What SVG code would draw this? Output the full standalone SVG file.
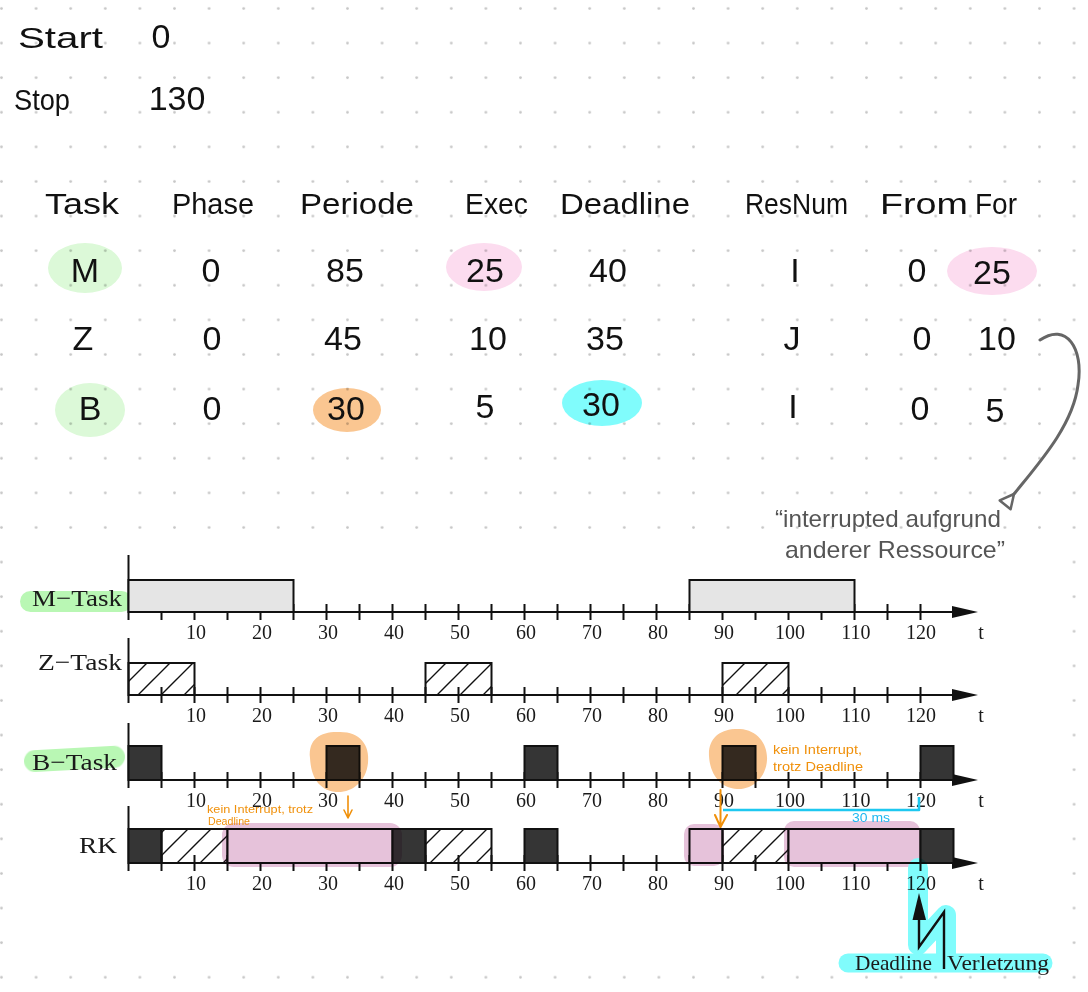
<svg xmlns="http://www.w3.org/2000/svg" xmlns:xlink="http://www.w3.org/1999/xlink" width="1088" height="992" viewBox="0 0 1088 992">
<style>
.hw{font-family:"Liberation Sans","DejaVu Sans",sans-serif;fill:#111;}
.hd{font-size:30px;}
.val{font-size:34px;text-anchor:middle;}
.gray{fill:#555;font-size:24px;}
.tm{font-family:"Liberation Serif","DejaVu Serif",serif;fill:#1a1a1a;}
.tick{font-size:20px;text-anchor:middle;}
.lab{font-size:24px;text-anchor:end;}
.ax{stroke:#111;stroke-width:2;fill:none;}
.box{stroke:#111;stroke-width:2;}
.gbox{fill:#e5e5e5;}
.dbox{fill:#353535;}
.wbox{fill:#fff;}
.hbox{fill:url(#hatch);}
.hl{mix-blend-mode:multiply;}
.or{fill:#f0900a;font-family:"Liberation Sans","DejaVu Sans",sans-serif;}
</style>
<defs>
<pattern id="dots" patternUnits="userSpaceOnUse" width="34.6" height="34.6">
<circle cx="1.5" cy="8.5" r="1.4" fill="#c6c6c6"/>
</pattern>
<pattern id="hatch" patternUnits="userSpaceOnUse" x="5" y="0" width="23" height="23">
<path d="M-2,2 L2,-2 M0,23 L23,0 M21,25 L25,21" stroke="#111" stroke-width="1.4" fill="none"/>
</pattern>
<g id="axis">
<line class="ax" x1="128.5" y1="-57" x2="128.5" y2="8"/>
<line class="ax" x1="128.5" y1="0" x2="956" y2="0"/>
<polygon points="952,-6 978,0 952,6" fill="#111"/>
<path class="ax" d="M161.5,-8v16m33,-16v16m33,-16v16m33,-16v16m33,-16v16m33,-16v16m33,-16v16m33,-16v16m33,-16v16m33,-16v16m33,-16v16m33,-16v16m33,-16v16m33,-16v16m33,-16v16m33,-16v16m33,-16v16m33,-16v16m33,-16v16m33,-16v16m33,-16v16m33,-16v16m33,-16v16m33,-16v16"/>
<g class="tm tick">
<text x="196" y="27">10</text><text x="262" y="27">20</text><text x="328" y="27">30</text><text x="394" y="27">40</text><text x="460" y="27">50</text><text x="526" y="27">60</text><text x="592" y="27">70</text><text x="658" y="27">80</text><text x="724" y="27">90</text><text x="790" y="27">100</text><text x="856" y="27">110</text><text x="921" y="27">120</text><text x="981" y="27">t</text>
</g>
</g>
<marker id="grayhead" markerWidth="22" markerHeight="22" refX="3" refY="11" orient="auto" markerUnits="userSpaceOnUse">
<path d="M17,4 L3,11 L17,18 Z" fill="#fff" stroke="#666" stroke-width="2.5" stroke-linejoin="round"/>
</marker>
</defs>

<rect width="1088" height="992" fill="#fff"/>
<rect width="1088" height="992" fill="url(#dots)"/>

<g id="header">
<text class="hw hd" x="18" y="48" textLength="85" lengthAdjust="spacingAndGlyphs">Start</text>
<text class="hw val" x="161" y="48">0</text>
<text class="hw hd" x="14" y="110" textLength="56" lengthAdjust="spacingAndGlyphs">Stop</text>
<text class="hw val" x="177" y="110">130</text>
</g>

<g id="table-highlights" class="hl">
<ellipse cx="85" cy="268" rx="37" ry="25" fill="#dcf9d8"/>
<ellipse cx="90" cy="410" rx="35" ry="27" fill="#dcf9d8"/>
<ellipse cx="484" cy="267" rx="38" ry="24" fill="#fcdcef"/>
<ellipse cx="992" cy="271" rx="45" ry="24" fill="#fcdcef"/>
<ellipse cx="347" cy="410" rx="34" ry="22" fill="#fac691"/>
<ellipse cx="602" cy="403" rx="40" ry="23" fill="#80fcfc"/>
</g>

<g id="table">
<text class="hw hd" x="45" y="214" textLength="74" lengthAdjust="spacingAndGlyphs">Task</text>
<text class="hw hd" x="172" y="214" textLength="82" lengthAdjust="spacingAndGlyphs">Phase</text>
<text class="hw hd" x="300" y="214" textLength="114" lengthAdjust="spacingAndGlyphs">Periode</text>
<text class="hw hd" x="465" y="214" textLength="63" lengthAdjust="spacingAndGlyphs">Exec</text>
<text class="hw hd" x="560" y="214" textLength="130" lengthAdjust="spacingAndGlyphs">Deadline</text>
<text class="hw hd" x="745" y="214" textLength="103" lengthAdjust="spacingAndGlyphs">ResNum</text>
<text class="hw hd" x="880" y="214" textLength="88" lengthAdjust="spacingAndGlyphs">From</text>
<text class="hw hd" x="975" y="214" textLength="42" lengthAdjust="spacingAndGlyphs">For</text>

<text class="hw val" x="85" y="282">M</text>
<text class="hw val" x="211" y="282">0</text>
<text class="hw val" x="345" y="282">85</text>
<text class="hw val" x="485" y="282">25</text>
<text class="hw val" x="608" y="282">40</text>
<text class="hw val" x="795" y="282">I</text>
<text class="hw val" x="917" y="282">0</text>
<text class="hw val" x="992" y="284">25</text>

<text class="hw val" x="83" y="350">Z</text>
<text class="hw val" x="212" y="350">0</text>
<text class="hw val" x="343" y="350">45</text>
<text class="hw val" x="488" y="350">10</text>
<text class="hw val" x="605" y="350">35</text>
<text class="hw val" x="792" y="350">J</text>
<text class="hw val" x="922" y="350">0</text>
<text class="hw val" x="997" y="350">10</text>

<text class="hw val" x="90" y="420">B</text>
<text class="hw val" x="212" y="420">0</text>
<text class="hw val" x="346" y="420">30</text>
<text class="hw val" x="485" y="418">5</text>
<text class="hw val" x="601" y="416">30</text>
<text class="hw val" x="793" y="418">I</text>
<text class="hw val" x="920" y="420">0</text>
<text class="hw val" x="995" y="422">5</text>
</g>

<g id="connectors">
<path d="M1040,340 C1066,322 1084,348 1078,385 C1073,425 1040,462 1014,494" fill="none" stroke="#666" stroke-width="3" stroke-linecap="round" marker-end="url(#grayhead)"/>
</g>

<rect id="chart-bg" x="15" y="545" width="1042" height="428" fill="#fff"/>

<g id="note-interrupted">
<text class="hw gray" x="775" y="527" textLength="226" lengthAdjust="spacingAndGlyphs">“interrupted aufgrund</text>
<text class="hw gray" x="785" y="558" textLength="220" lengthAdjust="spacingAndGlyphs">anderer Ressource”</text>
</g>

<g id="label-highlights" class="hl">
<rect x="20" y="591" width="112" height="21" rx="10.5" fill="#b9f7b4"/>
<rect x="24" y="748" width="101" height="22" rx="11" fill="#b9f7b4" transform="rotate(-3 74 759)"/>
</g>

<g id="row-M">
<use href="#axis" y="612"/>
<rect class="box gbox" x="128.5" y="580" width="165" height="32"/>
<rect class="box gbox" x="689.5" y="580" width="165" height="32"/>
<text class="tm lab" x="122" y="606" textLength="90" lengthAdjust="spacingAndGlyphs">M−Task</text>
</g>

<g id="row-Z">
<use href="#axis" y="695"/>
<rect class="box hbox" x="128.5" y="663" width="66" height="32"/>
<rect class="box hbox" x="425.5" y="663" width="66" height="32"/>
<rect class="box hbox" x="722.5" y="663" width="66" height="32"/>
<text class="tm lab" x="122" y="670" textLength="84" lengthAdjust="spacingAndGlyphs">Z−Task</text>
</g>

<g id="row-B">
<use href="#axis" y="780"/>
<rect class="box dbox" x="128.5" y="746" width="33" height="34"/>
<rect class="box dbox" x="326.5" y="746" width="33" height="34"/>
<rect class="box dbox" x="524.5" y="746" width="33" height="34"/>
<rect class="box dbox" x="722.5" y="746" width="33" height="34"/>
<rect class="box dbox" x="920.5" y="746" width="33" height="34"/>
<text class="tm lab" x="117" y="770" textLength="85" lengthAdjust="spacingAndGlyphs">B−Task</text>
</g>

<g id="row-RK">
<use href="#axis" y="863"/>
<rect class="box dbox" x="128.5" y="829" width="33" height="34"/>
<rect class="box hbox" x="161.5" y="829" width="66" height="34"/>
<rect class="box wbox" x="227.5" y="829" width="165" height="34"/>
<rect class="box dbox" x="392.5" y="829" width="33" height="34"/>
<rect class="box hbox" x="425.5" y="829" width="66" height="34"/>
<rect class="box dbox" x="524.5" y="829" width="33" height="34"/>
<rect class="box wbox" x="689.5" y="829" width="33" height="34"/>
<rect class="box hbox" x="722.5" y="829" width="66" height="34"/>
<rect class="box wbox" x="788.5" y="829" width="132" height="34"/>
<rect class="box dbox" x="920.5" y="829" width="33" height="34"/>
<text class="tm lab" x="117" y="853" textLength="38" lengthAdjust="spacingAndGlyphs">RK</text>
</g>

<g id="chart-highlights" class="hl">
<path d="M310,758 C308,738 322,731 340,732 C360,732 370,745 368,763 C366,782 352,793 336,792 C318,790 311,776 310,758 Z" fill="#fac691"/>
<path d="M709,756 C708,737 722,728 740,729 C758,730 768,745 767,760 C766,778 752,790 737,789 C720,788 710,774 709,756 Z" fill="#fac691"/>
<rect x="222" y="823" width="180" height="44" rx="12" fill="#e6c2da"/>
<rect x="684" y="824" width="40" height="42" rx="10" fill="#e6c2da"/>
<rect x="784" y="821" width="136" height="46" rx="10" fill="#e6c2da"/>
<path d="M918,868 L918,945 L946,915 L946,962" fill="none" stroke="#80fcfc" stroke-width="20" stroke-linecap="round" stroke-linejoin="round"/>
<line x1="848" y1="963" x2="1043" y2="963" stroke="#80fcfc" stroke-width="19" stroke-linecap="round"/>
</g>

<g id="annotation-B30">
<text class="or" x="207" y="813" font-size="10.5" textLength="106" lengthAdjust="spacingAndGlyphs">kein Interrupt, trotz</text>
<text class="or" x="208" y="825" font-size="10.5" textLength="42" lengthAdjust="spacingAndGlyphs">Deadline</text>
<path d="M348,796 L348,816 M344,810 L348,818 L352,810" fill="none" stroke="#f0900a" stroke-width="1.6" stroke-linecap="round" stroke-linejoin="round"/>
</g>

<g id="annotation-B90">
<text class="or" x="773" y="754" font-size="13" textLength="89" lengthAdjust="spacingAndGlyphs">kein Interrupt,</text>
<text class="or" x="773" y="771" font-size="13" textLength="90" lengthAdjust="spacingAndGlyphs">trotz Deadline</text>
<path d="M720.5,790 L720.5,826 M715,815 L720.5,827 L727,815" fill="none" stroke="#f0900a" stroke-width="2" stroke-linecap="round" stroke-linejoin="round"/>
</g>

<g id="annotation-30ms">
<path d="M723,810 L919,810 L919,797" fill="none" stroke="#1ec8f0" stroke-width="2.6" stroke-linejoin="round"/>
<text x="852" y="822" font-size="13" fill="#1eb8f0" font-family="Liberation Sans, DejaVu Sans, sans-serif" textLength="38" lengthAdjust="spacingAndGlyphs">30 ms</text>
</g>

<g id="deadline-violation">
<polygon points="919,893 912.5,920 926,920" fill="#111"/>
<path d="M919,919 L919,947 L944,912 L944,969" fill="none" stroke="#111" stroke-width="2.4" stroke-linejoin="miter"/>
<text class="tm" x="855" y="970" font-size="22" textLength="77" lengthAdjust="spacingAndGlyphs">Deadline</text>
<text class="tm" x="947" y="970" font-size="22" textLength="102" lengthAdjust="spacingAndGlyphs">Verletzung</text>
</g>
</svg>
